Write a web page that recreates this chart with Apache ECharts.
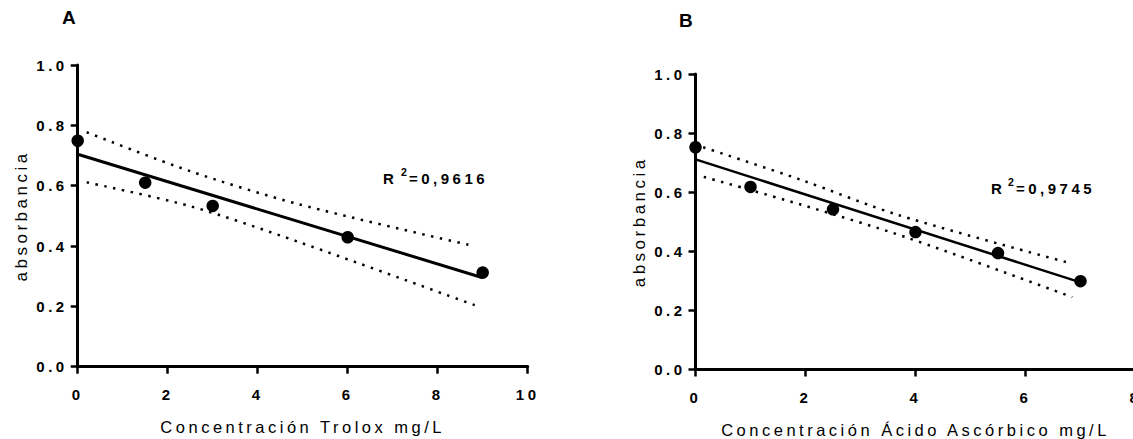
<!DOCTYPE html>
<html>
<head>
<meta charset="utf-8">
<script src="https://cdn.jsdelivr.net/npm/echarts@6/dist/echarts.min.js"></script>
<style>
  html, body { margin: 0; padding: 0; background: #fff; }
  #chart { width: 1133px; height: 439px; }
  #chart text { letter-spacing: 3.5px; }
</style>
</head>
<body>
<div id="chart"></div>
<script>
// panel A: Trolox
var xA = [0, 1.5, 3, 6, 9];
var yA = [0.749, 0.610, 0.533, 0.429, 0.312];
var fitA = [[0, 0.704], [9, 0.295]];
var upperA = [[0.2, 0.777], [2.5, 0.648], [4.9, 0.539], [8.8, 0.400]];
var lowerA = [[0.2, 0.611], [2.5, 0.532], [4.9, 0.414], [8.95, 0.197]];

// panel B: acido ascorbico
var xB = [0, 1, 2.5, 4, 5.5, 7];
var yB = [0.752, 0.618, 0.542, 0.465, 0.394, 0.299];
var fitB = [[0, 0.711], [7, 0.295]];
var upperB = [[0.14, 0.752], [1.9, 0.643], [3.7, 0.522], [6.85, 0.358]];
var lowerB = [[0.15, 0.652], [1.9, 0.559], [3.85, 0.446], [6.85, 0.245]];

var xTicksA = [0, 2, 4, 6, 8, 10];
var xTicksB = [0, 2, 4, 6, 8];
var yTicks = [0, 0.2, 0.4, 0.6, 0.8, 1.0];

var FONT = 'Liberation Sans, Arial, sans-serif';

function pairs(xs, ys) {
  return xs.map(function (x, i) { return [x, ys[i]]; });
}

function xAxisOf(grid, ticks, name) {
  return {
    type: 'value', gridIndex: grid,
    min: ticks[0], max: ticks[ticks.length - 1], interval: ticks[1] - ticks[0],
    name: name, nameLocation: 'middle', nameGap: 52,
    nameTextStyle: { color: '#000', fontSize: 16.5, fontFamily: FONT },
    axisLine: { lineStyle: { color: '#000', width: 3 } },
    axisTick: { length: 7, lineStyle: { color: '#000', width: 2.5 } },
    axisLabel: { color: '#000', fontSize: 15, fontWeight: 'bold', fontFamily: FONT, margin: 20,
      showMaxLabel: true },
    splitLine: { show: false }
  };
}

function yAxisOf(grid) {
  return {
    type: 'value', gridIndex: grid,
    min: yTicks[0], max: yTicks[yTicks.length - 1], interval: 0.2,
    name: 'absorbancia', nameLocation: 'middle', nameGap: 48,
    nameTextStyle: { color: '#000', fontSize: 17, fontFamily: FONT },
    axisLine: { show: true, lineStyle: { color: '#000', width: 3 } },
    axisTick: { show: true, length: 7, lineStyle: { color: '#000', width: 2.5 } },
    axisLabel: {
      color: '#000', fontSize: 15, fontWeight: 'bold', fontFamily: FONT, margin: 10,
      formatter: function (v) { return v.toFixed(1); }
    },
    splitLine: { show: false }
  };
}

function panelSeries(i, pts, fit, up, low, lw) {
  var dots = { color: '#000', width: 2.5, type: [2.5, 6.5], cap: 'butt' };
  return [
    { type: 'line', xAxisIndex: i, yAxisIndex: i, data: up, showSymbol: false, smooth: 0.3,
      lineStyle: dots, silent: true, z: 1 },
    { type: 'line', xAxisIndex: i, yAxisIndex: i, data: low, showSymbol: false, smooth: 0.3,
      lineStyle: dots, silent: true, z: 1 },
    { type: 'line', xAxisIndex: i, yAxisIndex: i, data: fit, showSymbol: false,
      lineStyle: { color: '#000', width: lw }, silent: true, z: 2 },
    { type: 'scatter', xAxisIndex: i, yAxisIndex: i, data: pts, symbolSize: 12.5,
      itemStyle: { color: '#000', opacity: 1 }, z: 3 }
  ];
}

function txt(left, top, s, size, bold) {
  return { type: 'text', left: left, top: top,
    style: { text: s, fill: '#000', fontSize: size, fontWeight: bold ? 'bold' : 'normal', fontFamily: FONT } };
}

var chart = echarts.init(document.getElementById('chart'), null, { renderer: 'svg' });
chart.setOption({
  backgroundColor: '#fff',
  animation: false,
  grid: [
    { left: 77.7, top: 65, width: 450, height: 301.7, outerBoundsMode: 'none' },
    { left: 695.5, top: 74, width: 440, height: 295.5, outerBoundsMode: 'none' }
  ],
  xAxis: [
    xAxisOf(0, xTicksA, 'Concentración Trolox mg/L'),
    xAxisOf(1, xTicksB, 'Concentración Ácido Ascórbico mg/L')
  ],
  yAxis: [yAxisOf(0), yAxisOf(1)],
  series: panelSeries(0, pairs(xA, yA), fitA, upperA, lowerA, 3)
    .concat(panelSeries(1, pairs(xB, yB), fitB, upperB, lowerB, 2.5)),
  graphic: [
    txt(62, 8, 'A', 19, true),
    txt(679, 11, 'B', 19, true),
    txt(383, 171, 'R', 15, true),
    txt(401, 166, '2', 10.5, true),
    txt(409, 171, '=0,9616', 15, true),
    txt(991, 181, 'R', 15, true),
    txt(1008, 176, '2', 10.5, true),
    txt(1016, 181, '=0,9745', 15, true)
  ]
});
</script>
</body>
</html>
